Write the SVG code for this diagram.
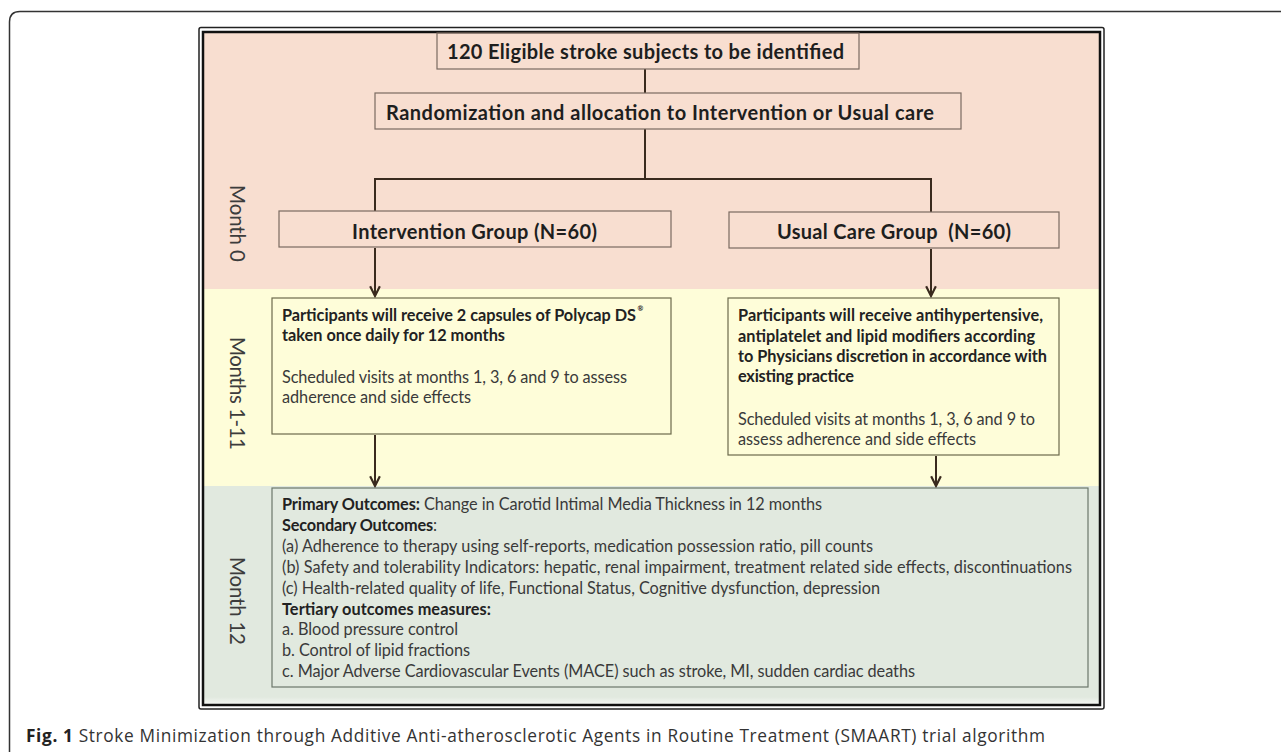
<svg xmlns="http://www.w3.org/2000/svg" width="1281" height="752" viewBox="0 0 1281 752">
<style>
.t{font-family:Lato,"Liberation Sans",sans-serif}
.hb{font-size:20px;font-weight:700;fill:#1e1e1e}
.bb{font-size:16.3px;font-weight:700;fill:#222}
.br{font-size:16.3px;font-weight:400;fill:#3a3a3a}
.ml{font-size:20.5px;font-weight:400;fill:#3c3c3c}
.sup{font-size:7px;font-weight:700;fill:#222}
.pbox{fill:none;stroke:#7b6a61;stroke-width:1.2}
.ybox{fill:none;stroke:#6c6a4c;stroke-width:1.2}
.gbox{fill:none;stroke:#6c776b;stroke-width:1.2}
.con{fill:none;stroke:#3a2a1e;stroke-width:2}
.cap{font-family:"Open Sans","Noto Sans",sans-serif;font-size:17.3px;fill:#333}
</style>
<defs>
<marker id="ah" markerUnits="userSpaceOnUse" markerWidth="14" markerHeight="14" viewBox="-11 -6 13 12" refX="0" refY="0" orient="auto">
<path d="M-9,-4.5 L0,0 L-9,4.5" fill="none" stroke="#3a2a1e" stroke-width="2"/>
</marker>
<linearGradient id="gfade" x1="0" y1="0" x2="0" y2="1">
<stop offset="0" stop-color="#e1e9df"/>
<stop offset="1" stop-color="#f6f8f5"/>
</linearGradient>
</defs>
<rect width="1281" height="752" fill="#fff"/>
<!-- outer page frame -->
<path d="M9.5,752 L9.5,22 Q9.5,11.5 20,11.5 L1281,11.5" fill="none" stroke="#333" stroke-width="1.5"/>
<!-- bands -->
<g id="bands">
<rect x="204" y="33" width="896" height="256" fill="#f8ded0"/>
<rect x="204" y="289" width="896" height="197" fill="#fefdd9"/>
<rect x="204" y="486" width="896" height="211" fill="#e1e9df"/>
<rect x="204" y="697" width="896" height="8" fill="url(#gfade)"/>
</g>
<!-- double frame -->
<rect x="199" y="27.5" width="905" height="681.5" rx="2" fill="none" stroke="#222" stroke-width="1.5"/>
<rect x="203" y="32" width="897" height="673" fill="none" stroke="#111" stroke-width="2.5"/>
<!-- month labels -->
<g id="label-month0"><text class="t ml" transform="translate(230,223.5) rotate(90)" text-anchor="middle" textLength="77">Month 0</text></g>
<g id="label-months1-11"><text class="t ml" transform="translate(230,393.5) rotate(90)" text-anchor="middle" textLength="113">Months 1-11</text></g>
<g id="label-month12"><text class="t ml" transform="translate(230,601) rotate(90)" text-anchor="middle" textLength="88" fill="#4a4a4a">Month 12</text></g>
<!-- connectors -->
<g id="connectors">
<path class="con" d="M645,69 L645,93"/>
<path class="con" d="M645,129 L645,179"/>
<path class="con" d="M375,211 L375,179 L931,179 L931,212"/>
<path class="con" d="M375,248 L375,296" marker-end="url(#ah)"/>
<path class="con" d="M931,249 L931,296" marker-end="url(#ah)"/>
<path class="con" d="M375,435 L375,486" marker-end="url(#ah)"/>
<path class="con" d="M936,456 L936,486" marker-end="url(#ah)"/>
</g>
<g id="node-eligible">
<rect class="pbox" x="437" y="33" width="422" height="36"/>
<text class="t hb" x="447" y="59" textLength="397">120 Eligible stroke subjects to be identified</text>
</g>
<g id="node-randomization">
<rect class="pbox" x="375" y="93" width="586" height="36"/>
<text class="t hb" x="386" y="119.5" textLength="548">Randomization and allocation to Intervention or Usual care</text>
</g>
<g id="node-intervention">
<rect class="pbox" x="279" y="211" width="392" height="36"/>
<text class="t hb" x="352" y="238.5" textLength="245">Intervention Group (N=60)</text>
</g>
<g id="node-usualcare">
<rect class="pbox" x="729" y="212" width="330" height="36"/>
<text class="t hb" x="777" y="239" textLength="234" xml:space="preserve">Usual Care Group  (N=60)</text>
</g>
<g id="node-intervention-treatment">
<rect class="ybox" x="272" y="298" width="399" height="136"/>
<text class="t bb" x="282" y="320.5" textLength="354">Participants will receive 2 capsules of Polycap DS</text>
<text class="t sup" x="637.5" y="311">®</text>
<text class="t bb" x="282" y="340.5" textLength="223">taken once daily for 12 months</text>
<text class="t br" x="282" y="383" textLength="345">Scheduled visits at months 1, 3, 6 and 9 to assess</text>
<text class="t br" x="282" y="403" textLength="189">adherence and side effects</text>
</g>
<g id="node-usualcare-treatment">
<rect class="ybox" x="728" y="298" width="331" height="157"/>
<text class="t bb" x="738" y="321" textLength="305">Participants will receive antihypertensive,</text>
<text class="t bb" x="738" y="341.5" textLength="297">antiplatelet and lipid modifiers according</text>
<text class="t bb" x="738" y="362" textLength="309">to Physicians discretion in accordance with</text>
<text class="t bb" x="738" y="382" textLength="116">existing practice</text>
<text class="t br" x="738" y="425" textLength="297">Scheduled visits at months 1, 3, 6 and 9 to</text>
<text class="t br" x="738" y="444.5" textLength="238">assess adherence and side effects</text>
</g>
<g id="node-outcomes">
<rect class="gbox" x="272" y="488" width="816" height="199"/>
<text class="t br" x="282" y="510" textLength="540"><tspan class="bb">Primary Outcomes:</tspan> Change in Carotid Intimal Media Thickness in 12 months</text>
<text class="t br" x="282" y="531" textLength="155"><tspan class="bb">Secondary Outcomes</tspan>:</text>
<text class="t br" x="282" y="552" textLength="591">(a) Adherence to therapy using self-reports, medication possession ratio, pill counts</text>
<text class="t br" x="282" y="573" textLength="790">(b) Safety and tolerability Indicators: hepatic, renal impairment, treatment related side effects, discontinuations</text>
<text class="t br" x="282" y="593.5" textLength="598">(c) Health-related quality of life, Functional Status, Cognitive dysfunction, depression</text>
<text class="t bb" x="282" y="614.5" textLength="209">Tertiary outcomes measures:</text>
<text class="t br" x="282" y="635" textLength="176">a. Blood pressure control</text>
<text class="t br" x="282" y="656" textLength="188">b. Control of lipid fractions</text>
<text class="t br" x="282" y="677" textLength="633">c. Major Adverse Cardiovascular Events (MACE) such as stroke, MI, sudden cardiac deaths</text>
</g>
<text class="cap" x="26" y="742" textLength="1019"><tspan font-weight="700" fill="#222">Fig. 1</tspan> Stroke Minimization through Additive Anti-atherosclerotic Agents in Routine Treatment (SMAART) trial algorithm</text>
</svg>
